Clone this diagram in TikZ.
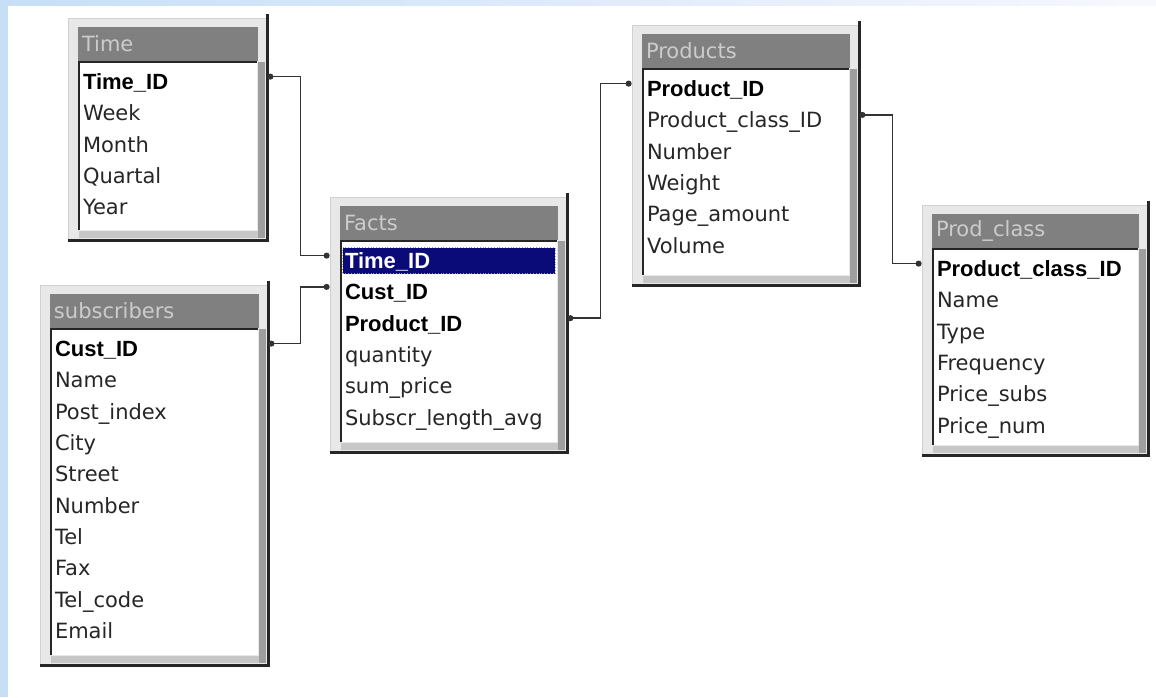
\documentclass[tikz,border=0pt]{standalone}
\usepackage{fontspec}
\setmainfont{DejaVu Sans}
\newfontfamily\keyfont{Liberation Sans}
\usetikzlibrary{arrows.meta, positioning, fit, calc}

\definecolor{selblue}{HTML}{0A0A78}
\definecolor{sideblue}{HTML}{C6DFF7}

\tikzset{
  tblframe/.style={fill=black!9, draw=black!18, inner sep=0pt},
  titlebar/.style={fill=black!50, inner sep=0pt},
  tbltitle/.style={anchor=west, inner sep=2pt, text=black!20, font=\fontsize{10.5}{12}\selectfont},
  pane/.style={fill=white, inner sep=0pt},
  paneedge/.style={draw=black!85, line width=1pt},
  shadowedge/.style={draw=black!85, line width=1.3pt},
  field/.style={anchor=base west, inner sep=0pt, text=black!85, font=\fontsize{10.5}{12}\selectfont},
  keyfield/.style={field, text=black, font=\keyfont\fontsize{11}{12}\selectfont\bfseries},
  selrow/.style={fill=selblue, draw=black!40, densely dotted, inner sep=0pt},
  link/.style={draw=black!80, line width=0.8pt, {Circle[length=3pt]}-{Circle[length=3pt]}}
}

% frame of one table: name, x0, y0, x1, y1, title
\newcommand{\dbtable}[6]{%
  \node[tblframe, fit={(#2,#3) (#4,#5)}] (#1) {};
  \node[titlebar, fit={(#2+10,#3+9) (#4-9,#3+43)}] (#1-title) {};
  \node[tbltitle] (#1-name) at (#1-title.west) {#6};
  \fill[black!38] (#4-9,#3+44) rectangle (#4-2,#5-2);
  \fill[black!22] (#2+11,#5-9) rectangle (#4-9,#5-2);
  \node[pane, fit={(#2+11,#3+44) (#4-10,#5-10)}] (#1-pane) {};
  \draw[paneedge] (#1-pane.south west) -- (#1-pane.north west) -- (#1-pane.north east);
  \draw[shadowedge] ($(#1.north east)+(0,-4)$) -- (#1.south east) -- (#1.south west);
}

\begin{document}
\begin{tikzpicture}[x=0.5pt, y=-0.5pt]
  \useasboundingbox (0,0) rectangle (1156,697);
  \fill[white] (0,0) rectangle (1156,697);
  \shade[left color=sideblue, right color=blue!3] (0,0) rectangle (1156,5);
  \fill[sideblue] (0,0) rectangle (8,697);

  % Time
  \dbtable{time}{68}{18}{267}{240}{Time}
  \node[keyfield] (time-key) at ($(time-pane.north west)+(4,28)$) {Time\_ID};
  \foreach \f [count=\i] in {Week, Month, Quartal, Year}
    \node[field] (time-\i) at ($(time-key.base west)+(0,31.3*\i)$) {\f};

  % subscribers
  \dbtable{subs}{40}{285}{268}{665}{subscribers}
  \node[keyfield] (subs-key) at ($(subs-pane.north west)+(4,28)$) {Cust\_ID};
  \foreach \f [count=\i] in {Name, Post\_index, City, Street, Number, Tel, Fax, Tel\_code, Email}
    \node[field] (subs-\i) at ($(subs-key.base west)+(0,31.3*\i)$) {\f};

  % Facts
  \dbtable{facts}{330}{197}{567}{452}{Facts}
  \node[selrow, fit={($(facts-pane.north west)+(2,7)$) ($(facts-pane.north east)+(-2,33)$)}] (facts-sel) {};
  \node[keyfield, text=white] (facts-key) at ($(facts-pane.north west)+(4,28)$) {Time\_ID};
  \foreach \f/\s [count=\i] in {Cust\_ID/keyfield, Product\_ID/keyfield, quantity/field,
      sum\_price/field, Subscr\_length\_avg/field}
    \node[\s] (facts-\i) at ($(facts-key.base west)+(0,31.3*\i)$) {\f};

  % Products
  \dbtable{prod}{632}{25}{859}{285}{Products}
  \node[keyfield] (prod-key) at ($(prod-pane.north west)+(4,28)$) {Product\_ID};
  \foreach \f [count=\i] in {Product\_class\_ID, Number, Weight, Page\_amount, Volume}
    \node[field] (prod-\i) at ($(prod-key.base west)+(0,31.3*\i)$) {\f};

  % Prod_class
  \dbtable{pclass}{922}{205}{1148}{455}{Prod\_class}
  \node[keyfield] (pclass-key) at ($(pclass-pane.north west)+(4,28)$) {Product\_class\_ID};
  \foreach \f [count=\i] in {Name, Type, Frequency, Price\_subs, Price\_num}
    \node[field] (pclass-\i) at ($(pclass-key.base west)+(0,31.3*\i)$) {\f};

  % relations
  \draw[link] ($(time-key.base -| time.east)+(0,-13)$) -- ++(33,0) |- ($(facts-key.base -| facts.west)+(0,-13)$);
  \draw[link] ($(subs-key.base -| subs.east)+(0,-13)$) -- ++(32,0) |- ($(facts-1.base -| facts.west)+(0,-13)$);
  \draw[link] ($(facts-2.base -| facts.east)+(0,-13)$) -- ++(33,0) |- ($(prod-key.base -| prod.west)+(0,-13)$);
  \draw[link] ($(prod-1.base -| prod.east)+(0,-13)$) -- ++(33,0) |- ($(pclass-key.base -| pclass.west)+(0,-13)$);
\end{tikzpicture}
\end{document}
